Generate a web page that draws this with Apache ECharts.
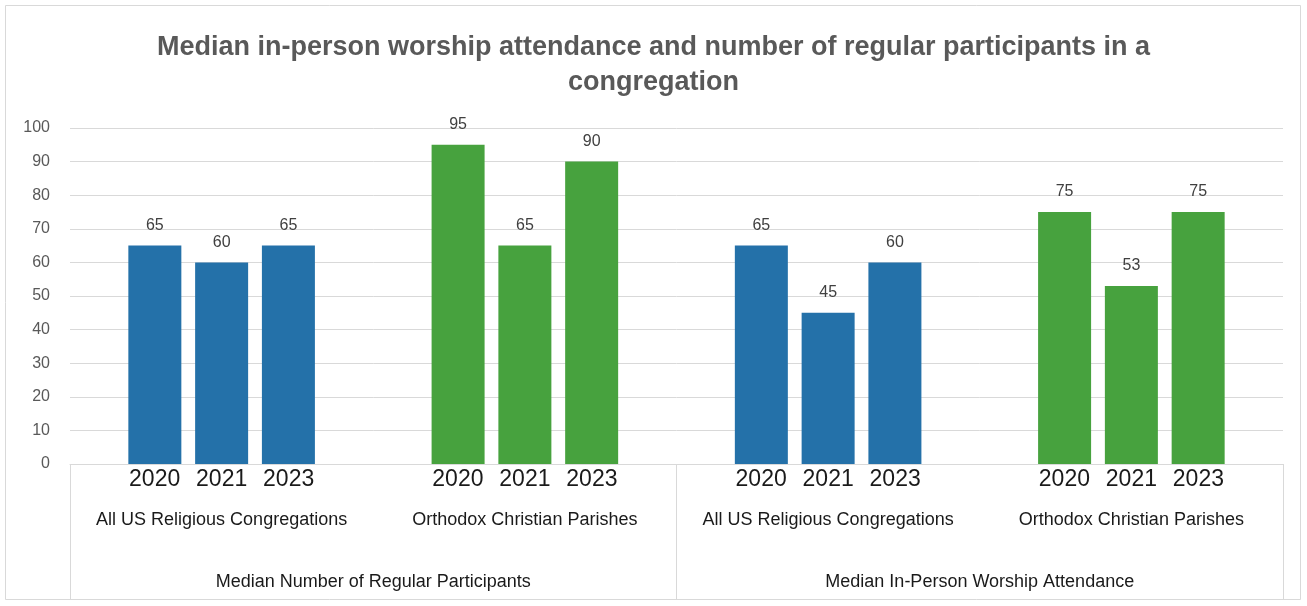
<!DOCTYPE html>
<html>
<head>
<meta charset="utf-8">
<script src="https://cdn.jsdelivr.net/npm/echarts@6/dist/echarts.min.js"></script>
<style>
  html, body { margin: 0; padding: 0; background: #ffffff; }
  #chart { width: 1307px; height: 606px; }
</style>
</head>
<body>
<div id="chart"></div>
<script>
// Survey years shown inside each group
const years = ['2020', '2021', '2023'];
// Congregation groups (inner category level)
const groups = [
  'All US Religious Congregations',
  'Orthodox Christian Parishes',
  'All US Religious Congregations',
  'Orthodox Christian Parishes'
];
// Measures (outer category level)
const measures = [
  'Median Number of Regular Participants',
  'Median In-Person Worship Attendance'
];
// Values per year, one entry per group
const values2020 = [65, 95, 65, 75];
const values2021 = [60, 65, 45, 53];
const values2023 = [65, 90, 60, 75];
// Value axis ticks
const yTicks = [0, 10, 20, 30, 40, 50, 60, 70, 80, 90, 100];

const groupColors = ['#2471a9', '#47a23e', '#2471a9', '#47a23e'];
const narrow = "'Liberation Sans Narrow', 'Liberation Sans', sans-serif";
const regular = "'Liberation Sans', Arial, sans-serif";

const seriesValues = [values2020, values2021, values2023];

const series = years.map((yr, si) => ({
  name: yr,
  type: 'bar',
  xAxisIndex: 0,
  barWidth: 53,
  barGap: '26%',
  data: seriesValues[si].map((v, gi) => ({
    value: v,
    itemStyle: { color: groupColors[gi] }
  })),
  label: {
    show: true,
    position: 'top',
    distance: 12,
    color: '#404040',
    fontFamily: regular,
    fontSize: 16
  },
  emphasis: { disabled: true }
}));

const chart = echarts.init(document.getElementById('chart'), null, { renderer: 'canvas' });

chart.setOption({
  animation: false,
  backgroundColor: '#ffffff',
  title: {
    text: 'Median in-person worship attendance and number of regular participants in a\ncongregation',
    left: 'center',
    top: 25,
    textStyle: {
      color: '#595959',
      fontFamily: narrow,
      fontWeight: 'bold',
      fontSize: 27,
      lineHeight: 35
    }
  },
  graphic: [{
    type: 'rect',
    shape: { x: 5.5, y: 5.5, width: 1295, height: 594 },
    style: { fill: 'none', stroke: '#d9d9d9', lineWidth: 1 },
    silent: true
  }],
  grid: { left: 70, right: 24, top: 128, bottom: 142, containLabel: false },
  xAxis: [
    {
      type: 'category',
      data: groups,
      position: 'bottom',
      axisLine: { show: true, lineStyle: { color: '#d9d9d9', width: 1 } },
      axisTick: { show: false },
      axisLabel: {
        interval: 0,
        margin: 3,
        formatter: (name) => years.map(y => '{y|' + y + '}').join('') + '\n{s|' + name + '}',
        rich: {
          y: { fontFamily: regular, fontSize: 23, color: '#1a1a1a', width: 67, align: 'center', lineHeight: 26 },
          s: { fontFamily: narrow, fontSize: 18, color: '#1a1a1a', lineHeight: 54, align: 'center' }
        }
      },
      splitLine: { show: false }
    },
    {
      type: 'category',
      data: measures,
      position: 'bottom',
      axisLine: { show: false },
      axisTick: { show: true, length: 135, interval: 0, lineStyle: { color: '#d9d9d9', width: 1 } },
      axisLabel: {
        interval: 0,
        margin: 109,
        fontFamily: narrow,
        fontSize: 18,
        color: '#1a1a1a'
      },
      splitLine: { show: false }
    }
  ],
  yAxis: {
    type: 'value',
    min: yTicks[0],
    max: yTicks[yTicks.length - 1],
    interval: yTicks[1] - yTicks[0],
    axisLine: { show: false },
    axisTick: { show: false },
    axisLabel: {
      margin: 20,
      color: '#595959',
      fontFamily: regular,
      fontSize: 16
    },
    splitLine: { lineStyle: { color: '#d9d9d9', width: 1 } }
  },
  series: series
});
</script>
</body>
</html>
